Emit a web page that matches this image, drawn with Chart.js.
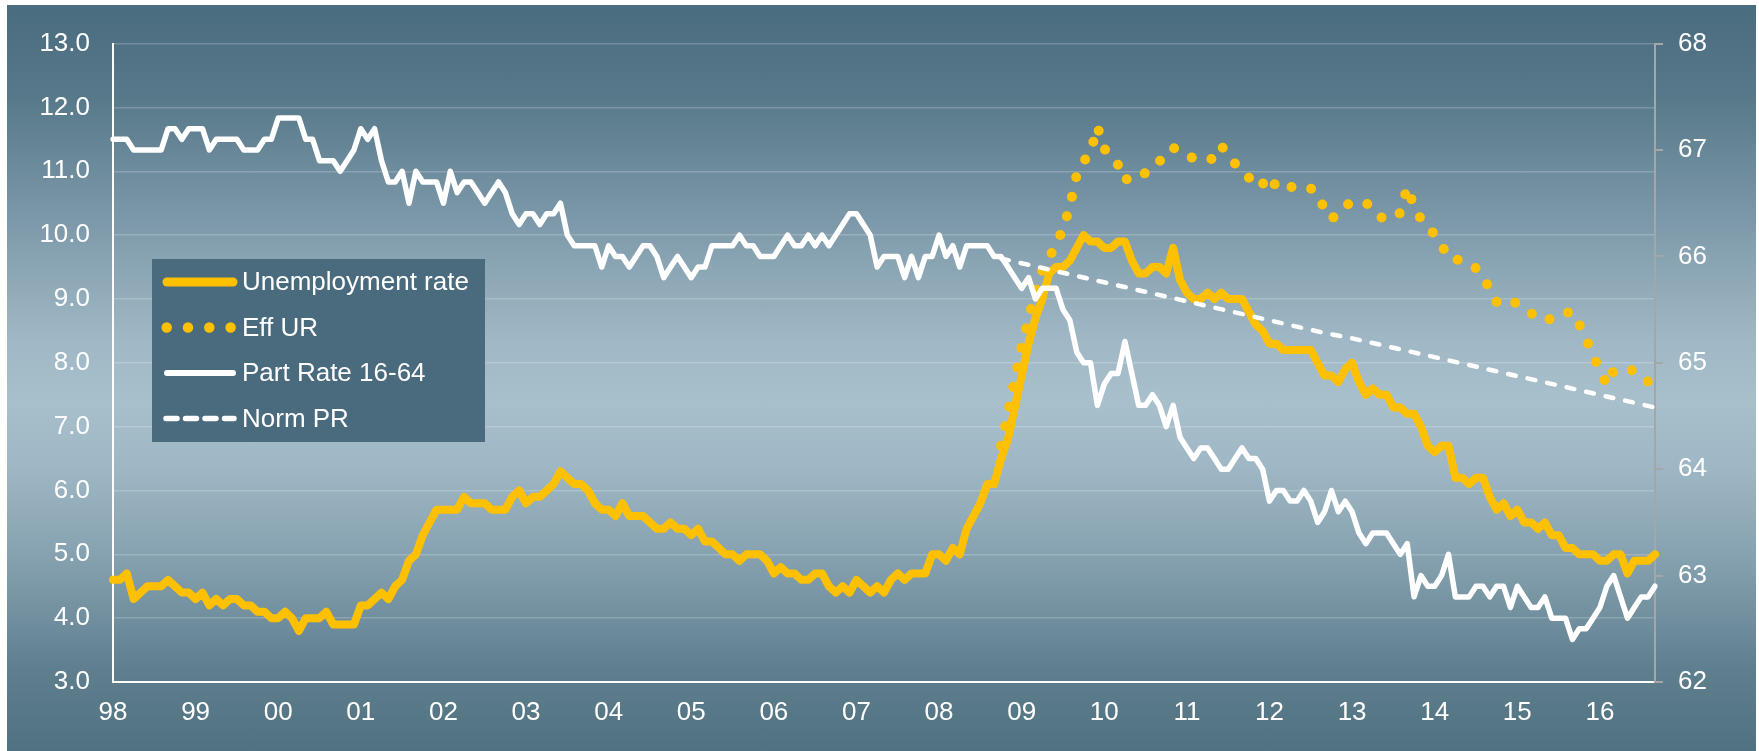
<!DOCTYPE html>
<html>
<head>
<meta charset="UTF-8">
<title>Unemployment rate and participation</title>
<script src="https://cdn.jsdelivr.net/npm/chart.js@4.4.1/dist/chart.umd.min.js"></script>
<style>
  body { margin: 0; background: #ffffff; }
  #wrap {
    position: absolute; left: 7px; top: 5px; width: 1749px; height: 746px;
    background: linear-gradient(to bottom, #4a6c7f 0%, #567889 12%, #7f9bab 30%, #a0b8c5 45%, #a8bfcc 53%, #9fb7c4 62%, #819dac 76%, #5f7f8e 89%, #50717f 100%);
  }
</style>
</head>
<body>
<div id="wrap"><canvas id="canvas" width="1749" height="746"></canvas></div>
<script>
// monthly data, Jan 1998 .. Sep 2016
const firstYear = 1998;
const monthNames = ['Jan','Feb','Mar','Apr','May','Jun','Jul','Aug','Sep','Oct','Nov','Dec'];

// unemployment rate, % (left axis)
const unemp = [
  4.6, 4.6, 4.7, 4.3, 4.4, 4.5, 4.5, 4.5, 4.6, 4.5, 4.4, 4.4,
  4.3, 4.4, 4.2, 4.3, 4.2, 4.3, 4.3, 4.2, 4.2, 4.1, 4.1, 4.0,
  4.0, 4.1, 4.0, 3.8, 4.0, 4.0, 4.0, 4.1, 3.9, 3.9, 3.9, 3.9,
  4.2, 4.2, 4.3, 4.4, 4.3, 4.5, 4.6, 4.9, 5.0, 5.3, 5.5, 5.7,
  5.7, 5.7, 5.7, 5.9, 5.8, 5.8, 5.8, 5.7, 5.7, 5.7, 5.9, 6.0,
  5.8, 5.9, 5.9, 6.0, 6.1, 6.3, 6.2, 6.1, 6.1, 6.0, 5.8, 5.7,
  5.7, 5.6, 5.8, 5.6, 5.6, 5.6, 5.5, 5.4, 5.4, 5.5, 5.4, 5.4,
  5.3, 5.4, 5.2, 5.2, 5.1, 5.0, 5.0, 4.9, 5.0, 5.0, 5.0, 4.9,
  4.7, 4.8, 4.7, 4.7, 4.6, 4.6, 4.7, 4.7, 4.5, 4.4, 4.5, 4.4,
  4.6, 4.5, 4.4, 4.5, 4.4, 4.6, 4.7, 4.6, 4.7, 4.7, 4.7, 5.0,
  5.0, 4.9, 5.1, 5.0, 5.4, 5.6, 5.8, 6.1, 6.1, 6.5, 6.8, 7.3,
  7.8, 8.3, 8.7, 9.0, 9.4, 9.5, 9.5, 9.6, 9.8, 10.0, 9.9, 9.9,
  9.8, 9.8, 9.9, 9.9, 9.6, 9.4, 9.4, 9.5, 9.5, 9.4, 9.8, 9.3,
  9.1, 9.0, 9.0, 9.1, 9.0, 9.1, 9.0, 9.0, 9.0, 8.8, 8.6, 8.5,
  8.3, 8.3, 8.2, 8.2, 8.2, 8.2, 8.2, 8.0, 7.8, 7.8, 7.7, 7.9,
  8.0, 7.7, 7.5, 7.6, 7.5, 7.5, 7.3, 7.3, 7.2, 7.2, 7.0, 6.7,
  6.6, 6.7, 6.7, 6.2, 6.2, 6.1, 6.2, 6.2, 5.9, 5.7, 5.8, 5.6,
  5.7, 5.5, 5.5, 5.4, 5.5, 5.3, 5.3, 5.1, 5.1, 5.0, 5.0, 5.0,
  4.9, 4.9, 5.0, 5.0, 4.7, 4.9, 4.9, 4.9, 5.0
];

// effective unemployment rate, % (left axis), from Oct 2008
const effURStart = 'Oct 08';
const effUR = [
                                                6.7, 7.2, 7.75,
  8.25, 8.7, 9.1, 9.45, 9.65, 9.85, 10.1, 10.45, 10.95, 11.15, 11.3, 11.7,
  11.35, 11.25, 11.1, 10.85, 10.95, 10.95, 10.97, 11.05, 11.15, 11.3, 11.37, 11.3,
  11.25, 11.2, 11.2, 11.18, 11.2, 11.4, 11.25, 11.12, 11.0, 10.9, 10.75, 10.8,
  10.93, 10.75, 10.7, 10.75, 10.77, 10.75, 10.73, 10.65, 10.4, 10.25, 10.35, 10.47,
  10.5, 10.5, 10.51, 10.4, 10.28, 10.27, 10.26, 10.35, 10.75, 10.45, 10.25, 10.15,
  10.0, 9.85, 9.63, 9.62, 9.6, 9.55, 9.48, 9.35, 9.15, 8.95, 8.97, 8.99,
  8.92, 8.86, 8.78, 8.68, 8.67, 8.69, 8.71, 8.78, 8.8, 8.6, 8.38, 8.1,
  7.9, 7.65, 7.88, 7.89, 7.89, 7.88, 7.8, 7.7, 7.62
];

// participation rate, % (right axis)
const partRate = [
  67.1, 67.1, 67.1, 67.0, 67.0, 67.0, 67.0, 67.0, 67.2, 67.2, 67.1, 67.2,
  67.2, 67.2, 67.0, 67.1, 67.1, 67.1, 67.1, 67.0, 67.0, 67.0, 67.1, 67.1,
  67.3, 67.3, 67.3, 67.3, 67.1, 67.1, 66.9, 66.9, 66.9, 66.8, 66.9, 67.0,
  67.2, 67.1, 67.2, 66.9, 66.7, 66.7, 66.8, 66.5, 66.8, 66.7, 66.7, 66.7,
  66.5, 66.8, 66.6, 66.7, 66.7, 66.6, 66.5, 66.6, 66.7, 66.6, 66.4, 66.3,
  66.4, 66.4, 66.3, 66.4, 66.4, 66.5, 66.2, 66.1, 66.1, 66.1, 66.1, 65.9,
  66.1, 66.0, 66.0, 65.9, 66.0, 66.1, 66.1, 66.0, 65.8, 65.9, 66.0, 65.9,
  65.8, 65.9, 65.9, 66.1, 66.1, 66.1, 66.1, 66.2, 66.1, 66.1, 66.0, 66.0,
  66.0, 66.1, 66.2, 66.1, 66.1, 66.2, 66.1, 66.2, 66.1, 66.2, 66.3, 66.4,
  66.4, 66.3, 66.2, 65.9, 66.0, 66.0, 66.0, 65.8, 66.0, 65.8, 66.0, 66.0,
  66.2, 66.0, 66.1, 65.9, 66.1, 66.1, 66.1, 66.1, 66.0, 66.0, 65.9, 65.8,
  65.7, 65.8, 65.6, 65.7, 65.7, 65.7, 65.5, 65.4, 65.1, 65.0, 65.0, 64.6,
  64.8, 64.9, 64.9, 65.2, 64.9, 64.6, 64.6, 64.7, 64.6, 64.4, 64.6, 64.3,
  64.2, 64.1, 64.2, 64.2, 64.1, 64.0, 64.0, 64.1, 64.2, 64.1, 64.1, 64.0,
  63.7, 63.8, 63.8, 63.7, 63.7, 63.8, 63.7, 63.5, 63.6, 63.8, 63.6, 63.7,
  63.6, 63.4, 63.3, 63.4, 63.4, 63.4, 63.3, 63.2, 63.3, 62.8, 63.0, 62.9,
  62.9, 63.0, 63.2, 62.8, 62.8, 62.8, 62.9, 62.9, 62.8, 62.9, 62.9, 62.7,
  62.9, 62.8, 62.7, 62.7, 62.8, 62.6, 62.6, 62.6, 62.4, 62.5, 62.5, 62.6,
  62.7, 62.9, 63.0, 62.8, 62.6, 62.7, 62.8, 62.8, 62.9
];

// norm participation rate, % (right axis), points read on the trend line
const normPRMonths = ['Oct 08', 'Sep 12', 'Jan 13', 'Sep 16'];
const normPR = [65.98, 65.28, 65.23, 64.58];

const seriesNames = ['Unemployment rate', 'Eff UR', 'Part Rate 16-64', 'Norm PR'];

// month labels
const months = unemp.map((v, i) => monthNames[i % 12] + ' ' + String((firstYear + Math.floor(i / 12)) % 100).padStart(2, '0'));
const effOffset = months.indexOf(effURStart);

const gold = '#ffc000';
const font = '"Liberation Sans", Arial, sans-serif';
Chart.defaults.font.family = font;
Chart.defaults.font.size = 26;
Chart.defaults.color = '#ffffff';

// legend drawn inside the plot, as in the original
const boxLegend = {
  id: 'boxLegend',
  afterDatasetsDraw(chart) {
    const ctx = chart.ctx;
    const x = 145, y = 254, w = 333, h = 183;
    ctx.save();
    ctx.fillStyle = '#4a6b7e';
    ctx.fillRect(x, y, w, h);
    ctx.font = '26px ' + font;
    ctx.textBaseline = 'middle';
    chart.data.datasets.forEach(function(ds, i) {
      const cy = y + 23 + i * 45.5;
      ctx.beginPath();
      ctx.strokeStyle = ds.borderColor;
      ctx.lineCap = 'round';
      if (i == 1) {
        ctx.lineWidth = 10.5;
        ctx.setLineDash([0, 21.3]);
        ctx.moveTo(x + 14.7, cy);
        ctx.lineTo(x + 80, cy);
      } else if (i == 3) {
        ctx.lineWidth = 5.5;
        ctx.setLineDash([11, 8.5]);
        ctx.moveTo(x + 14, cy);
        ctx.lineTo(x + 82, cy);
      } else {
        ctx.lineWidth = i == 0 ? 9 : 6;
        ctx.setLineDash([]);
        ctx.moveTo(x + 15, cy);
        ctx.lineTo(x + 81, cy);
      }
      ctx.stroke();
      ctx.setLineDash([]);
      ctx.fillStyle = '#ffffff';
      ctx.fillText(ds.label, x + 90, cy + 1);
    });
    ctx.restore();
  }
};

new Chart(document.getElementById('canvas').getContext('2d'), {
  type: 'line',
  data: {
    labels: months,
    datasets: [
      {
        label: seriesNames[0], data: unemp, yAxisID: 'y', order: 4,
        borderColor: gold, borderWidth: 8, borderJoinStyle: 'round', borderCapStyle: 'round'
      },
      {
        label: seriesNames[1], yAxisID: 'y', order: 3,
        data: effUR.map((v, i) => ({ x: months[effOffset + i], y: v })),
        borderColor: gold, borderWidth: 10, borderDash: [0, 20], borderCapStyle: 'round'
      },
      {
        label: seriesNames[2], data: partRate, yAxisID: 'y1', order: 2,
        borderColor: '#ffffff', borderWidth: 5.5, borderJoinStyle: 'round', borderCapStyle: 'round'
      },
      {
        label: seriesNames[3], yAxisID: 'y1', order: 1,
        data: normPRMonths.map((m, i) => ({ x: m, y: normPR[i] })),
        borderColor: '#ffffff', borderWidth: 4.5, borderDash: [8, 12], borderCapStyle: 'round'
      }
    ]
  },
  options: {
    responsive: false,
    animation: false,
    events: [],
    layout: { padding: { top: 37, left: 0, right: 0, bottom: 0 } },
    elements: { point: { radius: 0 }, line: { tension: 0 } },
    plugins: { legend: { display: false }, tooltip: { enabled: false } },
    scales: {
      x: {
        type: 'category',
        grid: { display: false, drawTicks: false },
        border: { display: true, color: '#ffffff', width: 2 },
        ticks: {
          autoSkip: false, maxRotation: 0, padding: 15, color: '#ffffff',
          callback: function(val) {
            const l = this.getLabelForValue(val);
            return l.indexOf('Jan') === 0 ? l.slice(4) : '';
          }
        },
        afterFit: function(s) { s.height = 69; }
      },
      y: {
        position: 'left', min: 3, max: 13,
        grid: { color: 'rgba(255,255,255,0.2)', lineWidth: 1.5, drawTicks: false },
        border: { color: '#ffffff', width: 2 },
        ticks: { stepSize: 1, padding: 23, color: '#ffffff', callback: v => v.toFixed(1) },
        afterFit: function(s) { s.width = 106; }
      },
      y1: {
        position: 'right', min: 62, max: 68,
        grid: { drawOnChartArea: false, drawTicks: true, tickLength: 8, color: '#a6a6a6', lineWidth: 2 },
        border: { color: '#a6a6a6', width: 2 },
        ticks: { stepSize: 1, padding: 15, color: '#ffffff' },
        afterFit: function(s) { s.width = 101; }
      }
    }
  },
  plugins: [boxLegend]
});
</script>
</body>
</html>
